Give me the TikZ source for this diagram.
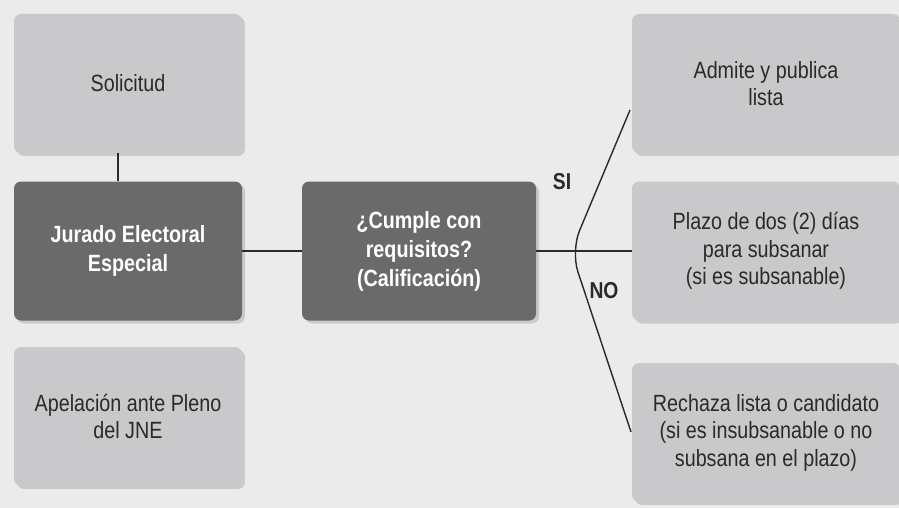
\documentclass[tikz,border=0pt]{standalone}
\usepackage{fontspec}
\setmainfont[FakeStretch=0.84]{Liberation Sans}
\usetikzlibrary{shadows}

\definecolor{bgcol}{HTML}{EBEBEC}
\definecolor{lightbox}{HTML}{C9C9CB}
\definecolor{darkbox}{HTML}{6A6A6A}
\definecolor{inkcol}{HTML}{2A2A2A}

\begin{document}
\begin{tikzpicture}[
  x=1pt, y=-1pt,
  box/.style={rounded corners=7pt,minimum width=228pt,minimum height=139pt,
    align=center,inner sep=0,font=\fontsize{23.5}{27.5}\selectfont,
    drop shadow={opacity=0.3,shadow xshift=3pt,shadow yshift=-3pt}},
  light/.style={box,fill=lightbox,text=inkcol},
  dark/.style={box,fill=darkbox,text=white,font=\fontsize{23.5}{29}\selectfont\bfseries},
  wide/.style={minimum width=268pt},
  link/.style={draw=inkcol,line width=1.4pt},
  tag/.style={font=\fontsize{23}{25}\selectfont\bfseries,text=inkcol},
]
  \fill[bgcol] (0,0) rectangle (899,508);
  \clip (0,0) rectangle (899,508);

  % left column
  \node[light] (sol) at (128,83.5) {Solicitud};
  \node[dark] (jee) at (128,251) {Jurado Electoral\\Especial};
  \node[light] (ape) at (128,416.5) {Apelación ante Pleno\\del JNE};

  % decision
  \node[dark, minimum width=234pt] (cal) at (419,251) {¿Cumple con\\requisitos?\\(Calificación)};

  % right column
  \node[light,wide] (adm) at (766,83.5) {Admite y publica\\lista};
  \node[light,wide] (pla) at (766,251) {Plazo de dos (2) días\\para subsanar\\(si es subsanable)};
  \node[light,wide] (rec) at (766,432.5) {Rechaza lista o candidato\\(si es insubsanable o no\\subsana en el plazo)};

  \coordinate (up) at (630,110);
  \coordinate (fork) at (571,251);
  \coordinate (down) at (631,432);

  \draw[link] (sol.south -| 118,0) -- (jee.north -| 118,0);
  \draw[link] (jee) -- (cal);
  \draw[link] (cal.east) -- (pla.west);
  \draw[link,rounded corners=22pt] (up) -- (fork) -- (down);

  \node[tag] (si) at (562,182) {SI};
  \node[tag] (no) at (604,291) {NO};
\end{tikzpicture}
\end{document}
